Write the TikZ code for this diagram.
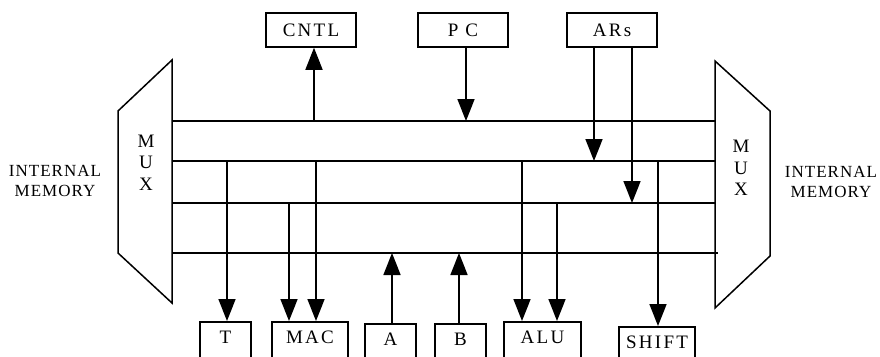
\documentclass[tikz,border=0pt]{standalone}
\usepackage{fontspec}
\setmainfont{Liberation Serif}
\newfontfamily\boxfont[LetterSpace=12]{Liberation Serif}
\newfontfamily\memfont[LetterSpace=6]{Liberation Serif}
\usetikzlibrary{arrows.meta}
\begin{document}
\begin{tikzpicture}[x=1pt,y=-1pt,
  ln/.style={line width=1.5pt},
  arr/.style={line width=1.7pt,-{Triangle[length=22pt,width=17pt]}},
  topbox/.style={draw,line width=1.5pt,minimum height=34pt,inner sep=0pt,
    font=\boxfont\fontsize{19}{22}\selectfont},
  botbox/.style={draw,line width=1.5pt,anchor=north,inner xsep=0pt,inner ysep=0pt,
    text height=22pt,text depth=30pt,font=\boxfont\fontsize{19}{22}\selectfont},
  memtext/.style={align=center,font=\memfont\fontsize{17}{20}\selectfont},
  muxtext/.style={align=center,font=\fontsize{19}{21.5}\selectfont}]
\useasboundingbox (0,0) rectangle (880,356);
\clip (0,0) rectangle (880,356);
% MUX shapes
\draw[ln,line join=miter] (172,60) -- (118,111) -- (118,253) -- (172,303) -- cycle;
\draw[ln,line join=miter] (715,61) -- (770,111) -- (770,256) -- (715,308) -- cycle;
\node[muxtext] (muxl) at (146,162.5) {M\\U\\X};
\node[muxtext] (muxr) at (741,168) {M\\U\\X};
\node[memtext] (meml) at (55,181) {INTERNAL\\MEMORY};
\node[memtext] (memr) at (831,182) {INTERNAL\\MEMORY};
% buses
\draw[ln] (172,121) -- (715,121);
\draw[ln] (172,161) -- (715,161);
\draw[ln] (172,203) -- (715,203);
\draw[ln] (172,253) -- (718,253);
% top boxes
\node[topbox,minimum width=90pt] (cntl) at (311,30) {CNTL};
\node[topbox,minimum width=90pt] (pc) at (463,30) {P C};
\node[topbox,minimum width=90pt] (ars) at (612,30) {ARs};
% bottom boxes
\node[botbox,minimum width=51pt] (t) at (225.5,321) {T};
\node[botbox,minimum width=76pt] (mac) at (310,321) {MAC};
\node[botbox,minimum width=51pt] (a) at (390.5,323) {A};
\node[botbox,minimum width=51pt] (b) at (460.5,323) {B};
\node[botbox,minimum width=77pt] (alu) at (542.5,321) {ALU};
\node[botbox,minimum width=76pt] (shift) at (657,326) {SHIFT};
% junction points on buses
\coordinate (jc) at (314,121);
\coordinate (jp) at (466,121);
\coordinate (jr1) at (594,161);
\coordinate (jr2) at (632,203);
\coordinate (jt) at (227,161);
\coordinate (jm1) at (289,203);
\coordinate (jm2) at (316,161);
\coordinate (ja) at (392,253);
\coordinate (jb) at (459,253);
\coordinate (jl1) at (522,161);
\coordinate (jl2) at (557,203);
\coordinate (js) at (658,161);
% connectors
\draw[arr] (jc) -- (jc |- cntl.south);
\draw[arr] (jp |- pc.south) -- (jp);
\draw[arr] (jr1 |- ars.south) -- (jr1);
\draw[arr] (jr2 |- ars.south) -- (jr2);
\draw[arr] (jt) -- (jt |- t.north);
\draw[arr] (jm1) -- (jm1 |- mac.north);
\draw[arr] (jm2) -- (jm2 |- mac.north);
\draw[arr] (ja |- a.north) -- (ja);
\draw[arr] (jb |- b.north) -- (jb);
\draw[arr] (jl1) -- (jl1 |- alu.north);
\draw[arr] (jl2) -- (jl2 |- alu.north);
\draw[arr] (js) -- (js |- shift.north);
\end{tikzpicture}
\end{document}
